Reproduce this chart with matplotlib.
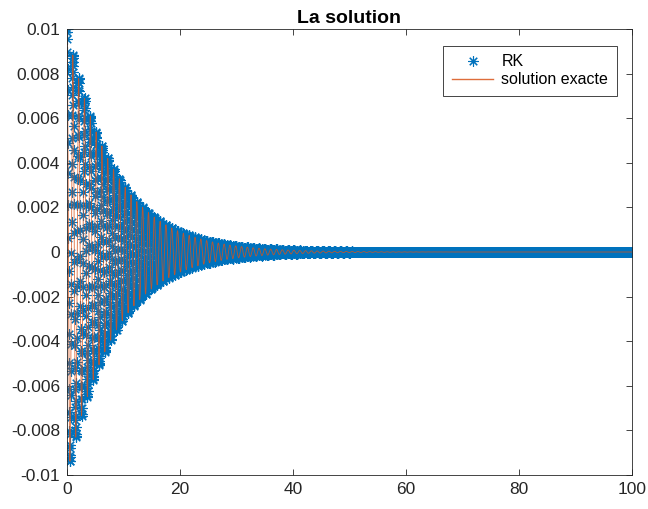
import numpy as np
import matplotlib
matplotlib.use("Agg")
import matplotlib.pyplot as plt

plt.rcParams['font.family'] = ['Liberation Sans', 'DejaVu Sans']
plt.rcParams['axes.unicode_minus'] = False

# oscillator: x(0)=0.01, period ~1, amplitude halves every ~5.6
x0 = 0.01
v0 = 0.0
amort = 0.12          # decay rate of the envelope
omega0 = 6.1          # natural pulsation (period a bit over 1)
h = 0.025             # RK step
t_end = 100.0

def f(y):
    return np.array([y[1], -2 * amort * y[1] - omega0**2 * y[0]])

# Runge-Kutta 4
t = np.arange(0, t_end + h / 2, h)
Y = np.zeros((len(t), 2))
Y[0] = [x0, v0]
for n in range(len(t) - 1):
    k1 = f(Y[n])
    k2 = f(Y[n] + h / 2 * k1)
    k3 = f(Y[n] + h / 2 * k2)
    k4 = f(Y[n] + h * k3)
    Y[n + 1] = Y[n] + h / 6 * (k1 + 2 * k2 + 2 * k3 + k4)
x_rk = Y[:, 0]

# solution exacte
wd = np.sqrt(omega0**2 - amort**2)
x_ex = x0 * np.exp(-amort * t) * (np.cos(wd * t) + amort / wd * np.sin(wd * t))

fig = plt.figure(figsize=(6.48, 5.09), dpi=100)
ax = fig.add_axes([0.1034, 0.0668, 0.8716, 0.8762])
ax.plot(t, x_rk, linestyle='none', marker=(8, 2, 0), markersize=7.5,
        markeredgewidth=0.8, color='#0072BD', label='RK')
ax.plot(t, x_ex, color='#D95319', linewidth=0.6, alpha=0.85, label='solution exacte')

ax.set_xlim(0, 100)
ax.set_ylim(-0.01, 0.01)
ax.set_xticks(np.arange(0, 101, 20))
ax.set_yticks(np.arange(-0.01, 0.0101, 0.002))
ax.set_yticklabels(['-0.01', '-0.008', '-0.006', '-0.004', '-0.002', '0',
                    '0.002', '0.004', '0.006', '0.008', '0.01'])
ax.tick_params(direction='in', length=4, width=0.6, colors='#262626',
               labelsize=12.5, top=True, right=True, pad=5)
for s in ax.spines.values():
    s.set_color('#262626')
    s.set_linewidth(0.6)
ax.set_title('La solution', fontsize=14, fontweight='bold', pad=4)

leg = ax.legend(loc='upper right', bbox_to_anchor=(0.974, 0.963), fontsize=11.5,
                fancybox=False, edgecolor='#262626', framealpha=1,
                handlelength=2.6, handletextpad=0.5, borderpad=0.55,
                labelspacing=0.2, borderaxespad=0)
leg.get_frame().set_linewidth(0.6)
leg.get_lines()[1].set_linewidth(1.0)

plt.savefig('out.png', dpi=100)
